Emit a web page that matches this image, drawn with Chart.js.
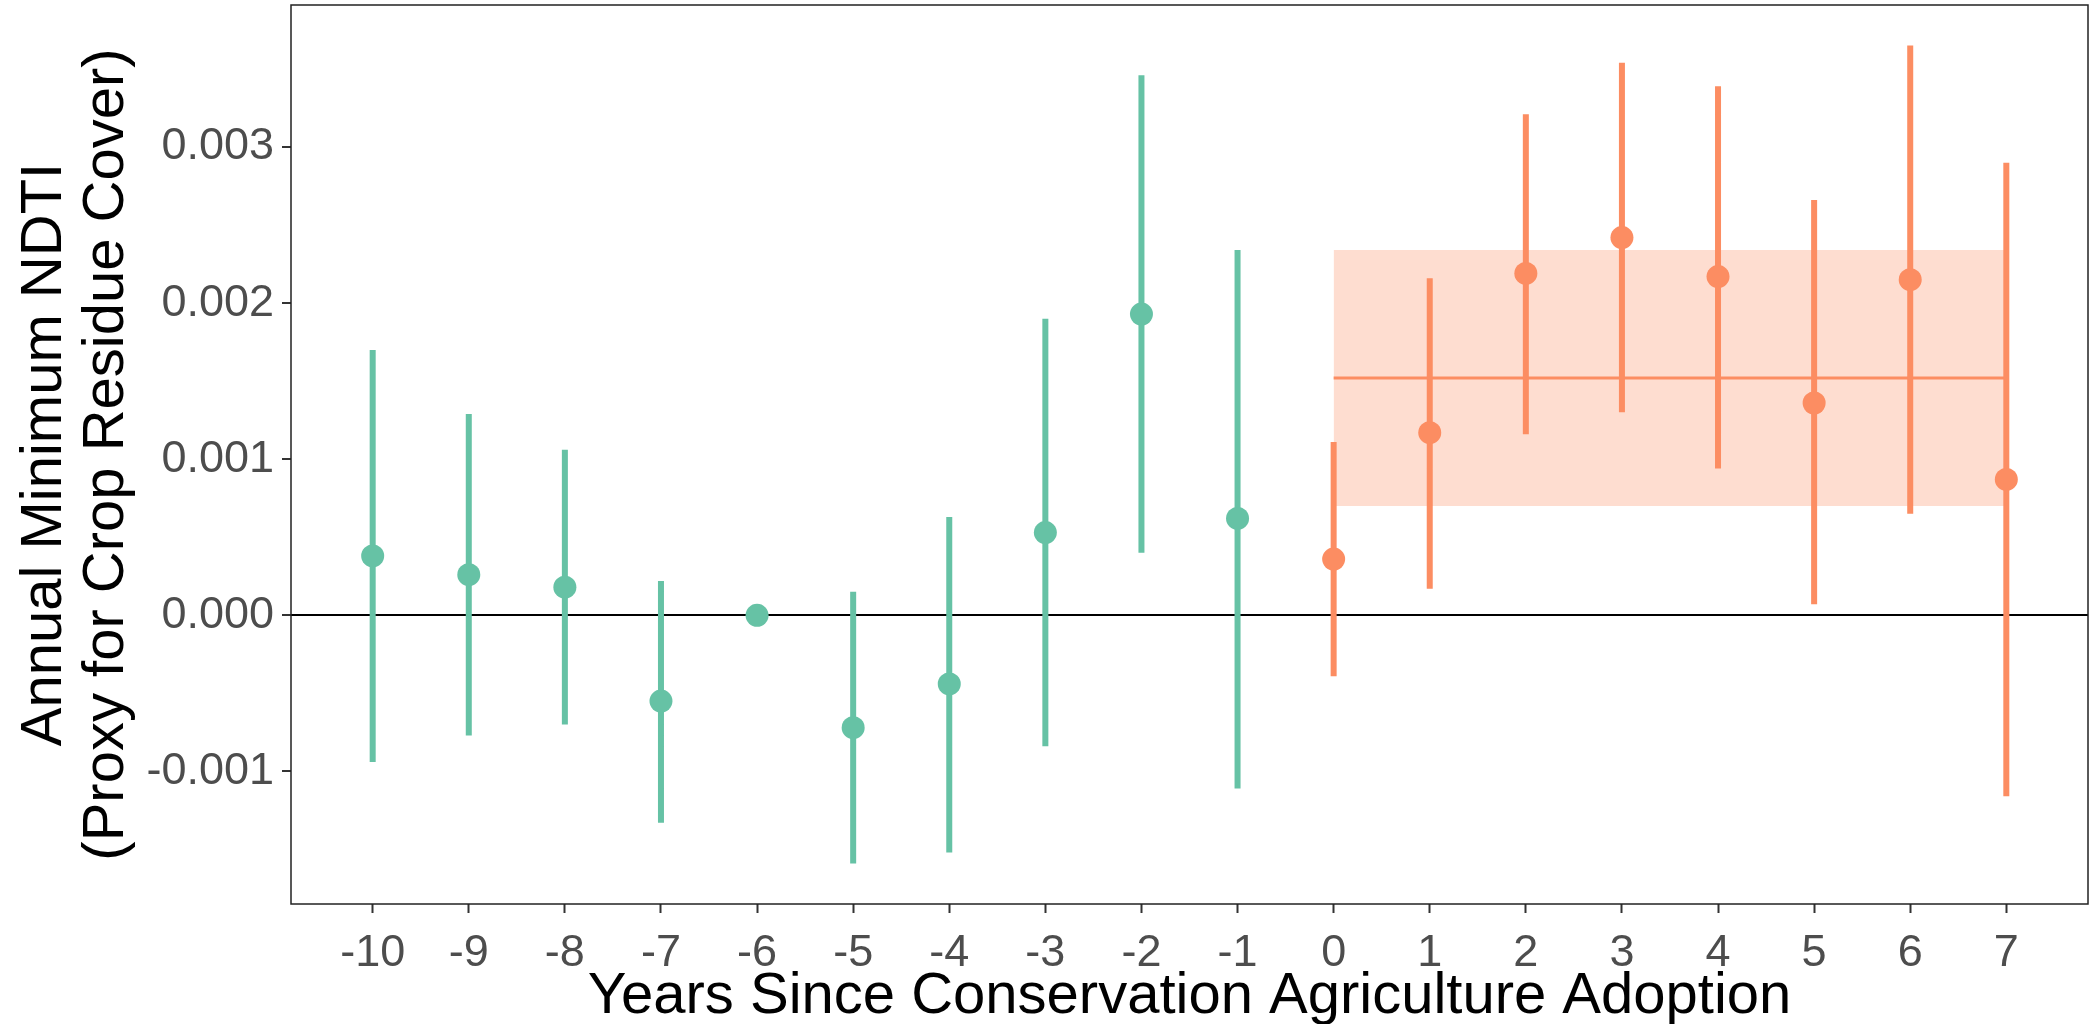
<!DOCTYPE html>
<html>
<head>
<meta charset="utf-8">
<script src="https://cdn.jsdelivr.net/npm/chart.js@4.4.0/dist/chart.umd.min.js"></script>
<style>
  html, body { margin: 0; padding: 0; background: #fff; }
</style>
</head>
<body>
<canvas id="chart" width="2096" height="1024"></canvas>
<script>
// years before adoption (reference year -6 has no interval)
const preYears = [-10, -9, -8, -7, -6, -5, -4, -3, -2, -1];
const preEst = [0.00038, 0.00026, 0.00018, -0.00055, 0, -0.00072, -0.00044, 0.00053, 0.00193, 0.00062];
const preLow = [-0.00094, -0.00077, -0.00070, -0.00133, null, -0.00159, -0.00152, -0.00084, 0.00040, -0.00111];
const preHigh = [0.00170, 0.00129, 0.00106, 0.00022, null, 0.00015, 0.00063, 0.00190, 0.00346, 0.00234];

// years after adoption
const postYears = [0, 1, 2, 3, 4, 5, 6, 7];
const postEst = [0.00036, 0.00117, 0.00219, 0.00242, 0.00217, 0.00136, 0.00215, 0.00087];
const postLow = [-0.00039, 0.00017, 0.00116, 0.00130, 0.00094, 0.00007, 0.00065, -0.00116];
const postHigh = [0.00111, 0.00216, 0.00321, 0.00354, 0.00339, 0.00266, 0.00365, 0.00290];

// pooled post-adoption effect and its interval
const avgSpan = [0, 7];
const avgEffect = 0.00152;
const avgLow = 0.00070;
const avgHigh = 0.00234;

const xTicks = [-10, -9, -8, -7, -6, -5, -4, -3, -2, -1, 0, 1, 2, 3, 4, 5, 6, 7];
const yTicks = [-0.001, 0, 0.001, 0.002, 0.003];
const yTickLabels = ["-0.001", "0.000", "0.001", "0.002", "0.003"];

const GREEN = "#66C2A5";
const ORANGE = "#FC8D62";

// big dots otherwise push the plot panel in from the canvas edges
Chart.registry.getController("line").prototype.getMaxOverflow = () => 0;

function points(xs, ys) {
  return xs.map((x, i) => ({ x: x, y: ys[i] }));
}

// each interval is two points followed by a gap
function whiskers(xs, lo, hi) {
  const out = [];
  xs.forEach((x, i) => {
    if (lo[i] === null) return;
    out.push({ x: x, y: lo[i] }, { x: x, y: hi[i] }, { x: x, y: null });
  });
  return out;
}

function flat(y) {
  return avgSpan.map((x) => ({ x: x, y: y }));
}

const panelBorder = {
  id: "panelBorder",
  afterDraw(chart) {
    const a = chart.chartArea;
    const ctx = chart.ctx;
    ctx.save();
    ctx.strokeStyle = "#222";
    ctx.lineWidth = 1.5;
    ctx.strokeRect(a.left, a.top, a.right - a.left, a.bottom - a.top);
    ctx.restore();
  },
};

const dotStyle = (color) => ({
  type: "line",
  showLine: false,
  pointRadius: 11.5,
  pointHoverRadius: 11.5,
  pointBackgroundColor: color,
  pointBorderWidth: 0,
  borderColor: color,
});

const barStyle = (color) => ({
  type: "line",
  borderColor: color,
  borderWidth: 6,
  borderCapStyle: "butt",
  pointRadius: 0,
  spanGaps: false,
  fill: false,
});

new Chart(document.getElementById("chart"), {
  type: "line",
  data: {
    datasets: [
      { ...dotStyle(GREEN), data: points(preYears, preEst) },
      { ...dotStyle(ORANGE), data: points(postYears, postEst) },
      { ...barStyle(GREEN), data: whiskers(preYears, preLow, preHigh) },
      { ...barStyle(ORANGE), data: whiskers(postYears, postLow, postHigh) },
      {
        type: "line",
        data: flat(avgEffect),
        borderColor: ORANGE,
        borderWidth: 3,
        pointRadius: 0,
        fill: false,
      },
      {
        type: "line",
        data: flat(avgHigh),
        borderWidth: 0,
        borderColor: "rgba(0,0,0,0)",
        pointRadius: 0,
        fill: "+1",
        backgroundColor: "rgba(252,141,98,0.3)",
      },
      {
        type: "line",
        data: flat(avgLow),
        borderWidth: 0,
        borderColor: "rgba(0,0,0,0)",
        pointRadius: 0,
        fill: false,
      },
    ],
  },
  options: {
    responsive: false,
    animation: false,
    devicePixelRatio: 1,
    layout: { padding: { top: 5, right: 8, left: 0, bottom: 0 } },
    plugins: {
      legend: { display: false },
      tooltip: { enabled: false },
    },
    scales: {
      x: {
        type: "linear",
        min: -10.85,
        max: 7.85,
        afterBuildTicks: (scale) => {
          scale.ticks = xTicks.map((v) => ({ value: v }));
        },
        afterFit: (scale) => {
          scale.height = 120;
          scale.paddingLeft = 0;
          scale.paddingRight = 0;
        },
        border: { display: false },
        grid: {
          drawOnChartArea: false,
          tickLength: 9,
          tickColor: "#333",
          tickWidth: 2,
        },
        ticks: {
          color: "#4D4D4D",
          padding: 14,
          autoSkip: false,
          maxRotation: 0,
          font: { family: "Liberation Sans, Arial, sans-serif", size: 45 },
          callback: (v) => String(v),
        },
        title: {
          display: true,
          text: "Years Since Conservation Agriculture Adoption",
          color: "#000",
          font: { family: "Liberation Sans, Arial, sans-serif", size: 58, lineHeight: 0.9 },
          padding: { top: 0, bottom: 1 },
        },
      },
      y: {
        type: "linear",
        min: -0.00185,
        max: 0.00391,
        afterBuildTicks: (scale) => {
          scale.ticks = yTicks.map((v) => ({ value: v }));
        },
        afterFit: (scale) => {
          scale.width = 291;
          scale.paddingTop = 0;
          scale.paddingBottom = 0;
        },
        border: { display: false },
        grid: {
          color: (ctx) => (ctx.tick && Math.abs(ctx.tick.value) < 1e-12 ? "#000" : "rgba(0,0,0,0)"),
          lineWidth: 2,
          tickLength: 9,
          tickColor: "#333",
          tickWidth: 2,
        },
        ticks: {
          color: "#4D4D4D",
          padding: 8,
          font: { family: "Liberation Sans, Arial, sans-serif", size: 45 },
          callback: (v) => {
            const i = yTicks.findIndex((t) => Math.abs(t - v) < 1e-12);
            return i >= 0 ? yTickLabels[i] : "";
          },
        },
        title: {
          display: true,
          text: ["Annual Minimum NDTI", "(Proxy for Crop Residue Cover)"],
          color: "#000",
          font: { family: "Liberation Sans, Arial, sans-serif", size: 58, lineHeight: 1.07 },
          padding: { top: 14, bottom: 0 },
        },
      },
    },
  },
  plugins: [panelBorder],
});
</script>
</body>
</html>
